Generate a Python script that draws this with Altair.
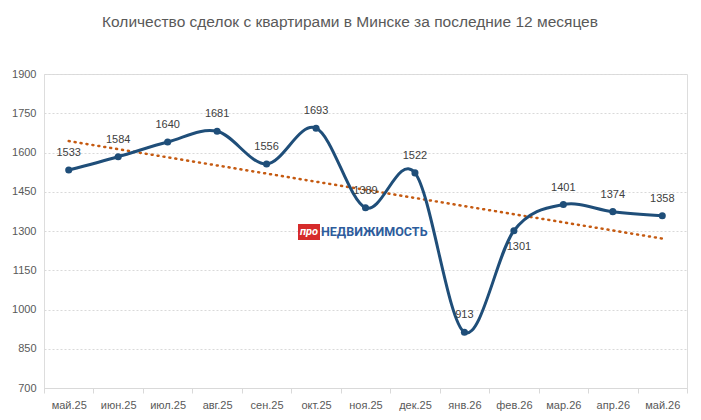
import altair as alt
import numpy as np
import pandas as pd

months = ["май.25", "июн.25", "июл.25", "авг.25", "сен.25", "окт.25", "ноя.25",
          "дек.25", "янв.26", "фев.26", "мар.26", "апр.26", "май.26"]
deals = [1533, 1584, 1640, 1681, 1556, 1693, 1389, 1522, 913, 1301, 1401, 1374, 1358]
below_labels = ["фев.26"]
y_ticks = [700, 850, 1000, 1150, 1300, 1450, 1600, 1750, 1900]
title_text = "Количество сделок с квартирами в Минске за последние 12 месяцев"

idx = np.arange(len(deals))
slope, intercept = np.polyfit(idx, deals, 1)
trend = list(intercept + slope * idx)

df = pd.DataFrame({"month": months, "deals": deals, "trend": trend,
                   "below": [m in below_labels for m in months]})

FONT = "Liberation Sans"
W, H = 643, 314

x = alt.X("month:N", sort=months, title=None,
          scale=alt.Scale(paddingInner=0, paddingOuter=0, align=0.5),
          axis=alt.Axis(labelAngle=0, labelFont=FONT, labelFontSize=11, labelColor="#595959",
                        domain=True, domainColor="#D9D9D9", tickColor="#D9D9D9", tickSize=5,
                        tickBand="extent", labelPadding=6, grid=False))
yscale = alt.Scale(domain=[700, 1900], nice=False, zero=False)
yaxis = alt.Axis(values=y_ticks, format="d", labelOverlap=False,
                 labelFont=FONT, labelFontSize=11, labelColor="#595959",
                 domain=False, ticks=False, labelPadding=8,
                 gridColor="#D9D9D9", gridDash=[2, 2], gridWidth=1)
y = alt.Y("deals:Q", scale=yscale, title=None, axis=yaxis)

base = alt.Chart(df)

trend_line = base.mark_line(color="#C55A11", strokeWidth=2.5, strokeDash=[1, 5],
                            strokeCap="round").encode(
    x=x, y=alt.Y("trend:Q", scale=yscale, title=None, axis=yaxis))

main_line = base.mark_line(color="#1F4E79", strokeWidth=3, interpolate="cardinal").encode(
    x=x, y=y)

points = base.mark_circle(color="#1F4E79", size=50, opacity=1).encode(x=x, y=y)

labels_above = base.transform_filter("!datum.below").mark_text(
    dy=-17, font=FONT, fontSize=11, color="#404040").encode(
    x=x, y=y, text=alt.Text("deals:Q"))

labels_below = base.transform_filter("datum.below").mark_text(
    dy=16, dx=5, font=FONT, fontSize=11, color="#404040").encode(
    x=x, y=y, text=alt.Text("deals:Q"))

single = alt.Chart(pd.DataFrame({"t": [title_text]}))
title = single.mark_text(font=FONT, fontSize=15.5, color="#595959").encode(
    x=alt.value(306), y=alt.value(-52), text="t:N")

logo_box = single.mark_rect(color="#D62B2B").encode(
    x=alt.value(254), x2=alt.value(276), y=alt.value(150), y2=alt.value(166))
logo_pro = alt.Chart(pd.DataFrame({"t": ["про"]})).mark_text(
    font="Roboto", fontSize=11, fontWeight="bold", fontStyle="italic", color="white").encode(
    x=alt.value(265), y=alt.value(158), text="t:N")
logo_name = alt.Chart(pd.DataFrame({"t": ["НЕДВИЖИМОСТЬ"]})).mark_text(
    font="Roboto", fontSize=12.5, fontWeight="bold", color="#2D5C9C", align="left").encode(
    x=alt.value(277), y=alt.value(158), text="t:N")

chart = alt.layer(
    trend_line, main_line, points, labels_above, labels_below,
    title, logo_box, logo_pro, logo_name
).properties(
    width=W, height=H,
    autosize=alt.AutoSizeParams(type="none"),
    padding={"left": 36, "top": 66, "right": 6, "bottom": 28},
).configure_view(strokeWidth=0, stroke="transparent").configure(background="white")

chart.save("out.html", embed_options={"renderer": "svg", "actions": False})
